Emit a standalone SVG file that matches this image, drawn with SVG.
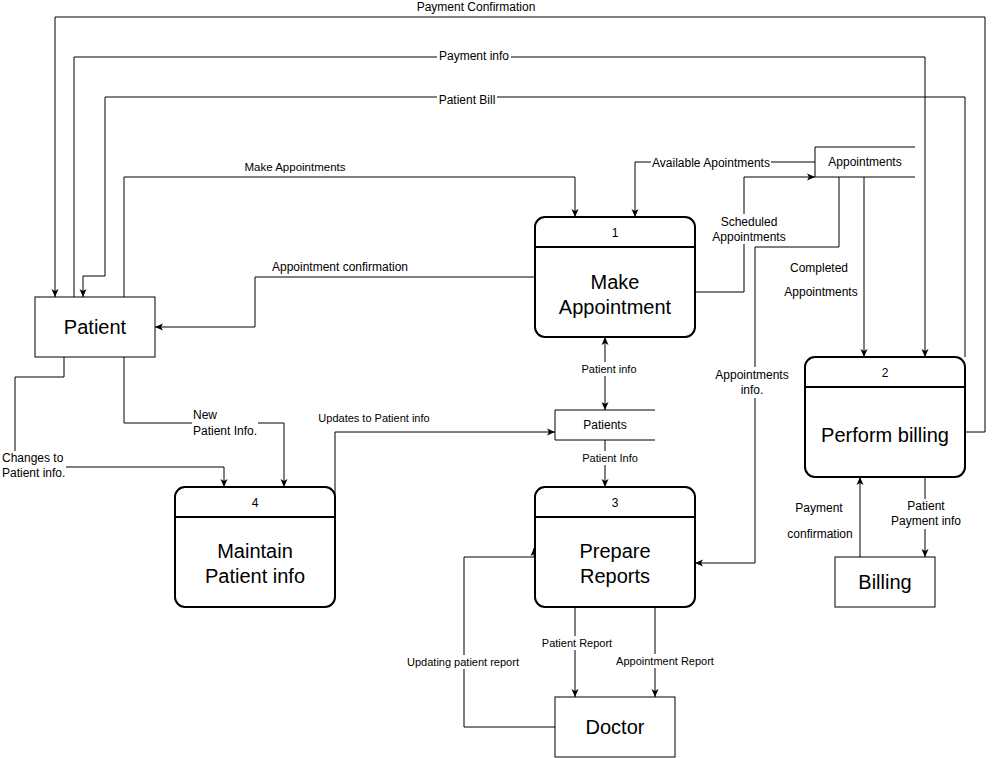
<svg xmlns="http://www.w3.org/2000/svg" width="993" height="758" viewBox="0 0 993 758">
  <style>
    .bg { fill: #ffffff; }
    .ext { fill: #ffffff; stroke: #000000; stroke-width: 1; }
    .proc { fill: #ffffff; stroke: #000000; stroke-width: 2; }
    .sep { stroke: #000000; stroke-width: 2; fill: none; }
    .store { stroke: #000000; stroke-width: 1; fill: none; }
    .flow { fill: none; stroke: #000000; stroke-width: 1; marker-end: url(#arrow); }
    .lbg { fill: #ffffff; stroke: none; }
    text { font-family: "Liberation Sans", Arial, Helvetica, sans-serif; fill: #000000; }
    .lbl { font-size: 12px; text-anchor: middle; }
    .md { font-size: 11.5px; text-anchor: middle; }
    .sm { font-size: 11px; text-anchor: middle; }
    .left { text-anchor: start; }
    .num { font-size: 12px; text-anchor: middle; }
    .big { font-size: 20px; text-anchor: middle; }
  </style>
  <defs>
    <marker id="arrow" viewBox="0 0 8 8" markerWidth="8" markerHeight="8" refX="8" refY="4" orient="auto-start-reverse" markerUnits="userSpaceOnUse">
      <path d="M0,0.5 L8,4 L0,7.5 L2,4 Z" fill="#000000"/>
    </marker>
  </defs>
  <rect class="bg" x="0" y="0" width="993" height="758"/>

  <!-- data flows -->
  <g id="connectors">
    <path class="flow" d="M965,432 H985 V17 H55 V297"/>
    <path class="flow" d="M74,297 V57 H925 V357"/>
    <path class="flow" d="M965,357 V97 H105 V276 H83 V297"/>
    <path class="flow" d="M124,297 V177 H575 V217"/>
    <path class="flow" d="M535,277 H255 V327 H155"/>
    <path class="flow" d="M815,162 H635 V217"/>
    <path class="flow" d="M695,292 H744 V177 H815"/>
    <path class="flow" d="M839,177 V247 H755 V563 H695"/>
    <path class="flow" d="M864,177 V357"/>
    <path class="flow" d="M605,410 V337" marker-start="url(#arrow)"/>
    <path class="flow" d="M605,440 V487"/>
    <path class="flow" d="M335,495 V432 H555"/>
    <path class="flow" d="M124,357 V423 H284 V487"/>
    <path class="flow" d="M64,357 V377 H15 V467 H224 V487"/>
    <path class="flow" d="M575,607 V697"/>
    <path class="flow" d="M655,607 V697"/>
    <path class="flow" d="M555,727 H464 V557 H534 V548"/>
    <path class="flow" d="M860,557 V477"/>
    <path class="flow" d="M925,477 V557"/>
  </g>

  <!-- flow labels -->
  <g id="flow-labels">
    <rect class="lbg" x="437" y="50" width="74" height="14"/>
    <rect class="lbg" x="437" y="92" width="60" height="14"/>
    <rect class="lbg" x="651" y="156" width="120" height="14"/>
    <rect class="lbg" x="713" y="214" width="72" height="30"/>
    <rect class="lbg" x="714" y="367" width="76" height="31"/>
    <rect class="lbg" x="581" y="362" width="56" height="14"/>
    <rect class="lbg" x="581" y="451" width="58" height="14"/>
    <rect class="lbg" x="192" y="408" width="66" height="31"/>
    <rect class="lbg" x="1" y="451" width="65" height="30"/>
    <rect class="lbg" x="541" y="636" width="72" height="14"/>
    <rect class="lbg" x="616" y="654" width="99" height="14"/>
    <rect class="lbg" x="407" y="655" width="112" height="14"/>
    <rect class="lbg" x="890" y="499" width="72" height="30"/>

    <text class="lbl" x="476" y="11">Payment Confirmation</text>
    <text class="lbl" x="474" y="60">Payment info</text>
    <text class="lbl" x="467" y="104">Patient Bill</text>
    <text class="md" x="295" y="171">Make Appointments</text>
    <text class="lbl" x="340" y="271">Appointment confirmation</text>
    <text class="lbl" x="711" y="167">Available Apointments</text>
    <text class="lbl" x="749" y="226">Scheduled</text>
    <text class="lbl" x="749" y="241">Appointments</text>
    <text class="lbl" x="819" y="272">Completed</text>
    <text class="lbl" x="821" y="296">Appointments</text>
    <text class="lbl" x="752" y="379">Appointments</text>
    <text class="lbl" x="752" y="394">info.</text>
    <text class="sm" x="609" y="373">Patient info</text>
    <text class="sm" x="610" y="462">Patient Info</text>
    <text class="sm" x="374" y="422">Updates to Patient info</text>
    <text class="lbl left" x="193" y="419">New</text>
    <text class="lbl left" x="193" y="435">Patient Info.</text>
    <text class="lbl left" x="2" y="462">Changes to</text>
    <text class="lbl left" x="2" y="477">Patient info.</text>
    <text class="sm" x="577" y="647">Patient Report</text>
    <text class="sm" x="665" y="665">Appointment Report</text>
    <text class="sm" x="463" y="666">Updating patient report</text>
    <text class="lbl" x="819" y="512">Payment</text>
    <text class="lbl" x="820" y="538">confirmation</text>
    <text class="lbl" x="926" y="510">Patient</text>
    <text class="lbl" x="926" y="525">Payment info</text>
  </g>

  <!-- external entities -->
  <g id="patient">
    <rect class="ext" x="35" y="297" width="120" height="60"/>
    <text class="big" x="95" y="334">Patient</text>
  </g>
  <g id="billing">
    <rect class="ext" x="835" y="557" width="100" height="50"/>
    <text class="big" x="885" y="589">Billing</text>
  </g>
  <g id="doctor">
    <rect class="ext" x="555" y="697" width="120" height="60"/>
    <text class="big" x="615" y="734">Doctor</text>
  </g>

  <!-- data stores -->
  <g id="store-appointments">
    <path class="store" d="M915,147 H815 V177 H915"/>
    <text class="lbl" x="865" y="166">Appointments</text>
  </g>
  <g id="store-patients">
    <path class="store" d="M655,410 H555 V440 H655"/>
    <text class="lbl" x="605" y="429">Patients</text>
  </g>

  <!-- processes -->
  <g id="process-1">
    <rect class="proc" x="535" y="217" width="160" height="120" rx="10" ry="10"/>
    <line class="sep" x1="535" y1="247" x2="695" y2="247"/>
    <text class="num" x="615" y="237">1</text>
    <text class="big" x="615" y="289">Make</text>
    <text class="big" x="615" y="314">Appointment</text>
  </g>
  <g id="process-2">
    <rect class="proc" x="805" y="357" width="160" height="120" rx="10" ry="10"/>
    <line class="sep" x1="805" y1="387" x2="965" y2="387"/>
    <text class="num" x="885" y="377">2</text>
    <text class="big" x="885" y="442">Perform billing</text>
  </g>
  <g id="process-3">
    <rect class="proc" x="535" y="487" width="160" height="120" rx="10" ry="10"/>
    <line class="sep" x1="535" y1="517" x2="695" y2="517"/>
    <text class="num" x="615" y="507">3</text>
    <text class="big" x="615" y="558">Prepare</text>
    <text class="big" x="615" y="583">Reports</text>
  </g>
  <g id="process-4">
    <rect class="proc" x="175" y="487" width="160" height="120" rx="10" ry="10"/>
    <line class="sep" x1="175" y1="517" x2="335" y2="517"/>
    <text class="num" x="255" y="507">4</text>
    <text class="big" x="255" y="558">Maintain</text>
    <text class="big" x="255" y="583">Patient info</text>
  </g>
</svg>
